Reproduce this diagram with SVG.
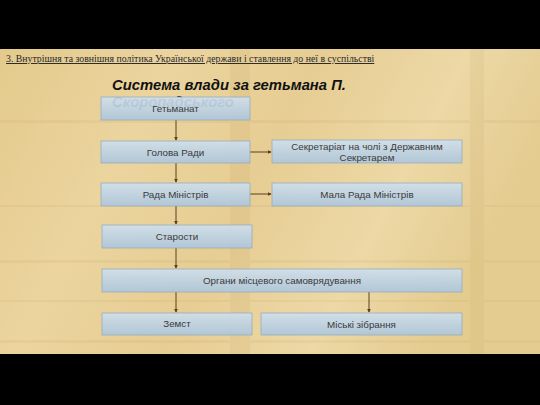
<svg xmlns="http://www.w3.org/2000/svg" width="540" height="405" viewBox="0 0 540 405">
  <defs>
    <linearGradient id="paper" x1="0" y1="0" x2="1" y2="0.3">
      <stop offset="0" stop-color="#e3ca8c"/>
      <stop offset="0.3" stop-color="#ebd49e"/>
      <stop offset="0.55" stop-color="#e6cd93"/>
      <stop offset="0.8" stop-color="#edd8a6"/>
      <stop offset="1" stop-color="#e4cc90"/>
    </linearGradient>
    <linearGradient id="box" x1="0" y1="0" x2="0" y2="1">
      <stop offset="0" stop-color="#cfe0ee"/>
      <stop offset="1" stop-color="#aec6db"/>
    </linearGradient>
    <marker id="arr" viewBox="0 0 6 6" refX="5" refY="3" markerWidth="4" markerHeight="4" orient="auto">
      <path d="M0,0 L6,3 L0,6 z" fill="#5a4020"/>
    </marker>
    <style>
      .bx { fill: url(#box); stroke: #8fabc4; stroke-width: 0.8; opacity: 0.92; }
      .lb { font-family: "Liberation Sans", Arial, sans-serif; font-size: 9.8px; fill: #3a3a3a; text-anchor: middle; }
      .cn { stroke: #5a4020; stroke-width: 1; fill: none; marker-end: url(#arr); }
    </style>
  </defs>
  <rect x="0" y="0" width="540" height="405" fill="#000"/>
  <rect x="0" y="49" width="540" height="305" fill="url(#paper)"/>
  <g opacity="0.1" fill="#b89550">
    <rect x="0" y="120" width="540" height="3"/>
    <rect x="0" y="205" width="540" height="2"/>
    <rect x="0" y="260" width="540" height="3"/>
    <rect x="0" y="300" width="540" height="2"/>
    <rect x="0" y="340" width="540" height="3"/>
    <rect x="230" y="49" width="20" height="305"/>
    <rect x="470" y="49" width="14" height="305"/>
  </g>
  <text x="6" y="62" font-family="Liberation Serif, 'Times New Roman', serif" font-size="9.8" fill="#2a2a2a" text-decoration="underline">3. Внутрішня та зовнішня політика Української держави і ставлення до неї в суспільстві</text>
  <text x="112" y="90" font-family="Liberation Sans, Arial, sans-serif" font-size="14.8" font-weight="bold" font-style="italic" fill="#111">Система влади за гетьмана П.</text>
  <text x="112" y="107" font-family="Liberation Sans, Arial, sans-serif" font-size="14.8" font-weight="bold" font-style="italic" fill="#111">Скоропадського</text>

  <g id="connectors">
    <line class="cn" x1="176" y1="120" x2="176" y2="140"/>
    <line class="cn" x1="176" y1="163" x2="176" y2="182"/>
    <line class="cn" x1="176" y1="206" x2="176" y2="224"/>
    <line class="cn" x1="176" y1="248" x2="176" y2="268"/>
    <line class="cn" x1="176" y1="292" x2="176" y2="312"/>
    <line class="cn" x1="369" y1="292" x2="369" y2="312"/>
    <line class="cn" x1="250" y1="152" x2="271" y2="152"/>
    <line class="cn" x1="250" y1="194" x2="271" y2="194"/>
  </g>

  <g id="n-hetmanat"><rect class="bx" x="101" y="97" width="149" height="23"/><text class="lb" x="175.5" y="112">Гетьманат</text></g>
  <g id="n-holova"><rect class="bx" x="101" y="141" width="149" height="22"/><text class="lb" x="175.5" y="155.5">Голова Ради</text></g>
  <g id="n-sekretariat"><rect class="bx" x="272" y="140" width="190" height="23"/><text class="lb" x="367" y="150">Секретаріат на чолі з Державним</text><text class="lb" x="367" y="160.5">Секретарем</text></g>
  <g id="n-rada"><rect class="bx" x="101" y="183" width="149" height="23"/><text class="lb" x="175.5" y="197.5">Рада Міністрів</text></g>
  <g id="n-mala"><rect class="bx" x="272" y="183" width="190" height="23"/><text class="lb" x="367" y="197.5">Мала Рада Міністрів</text></g>
  <g id="n-starosty"><rect class="bx" x="102" y="225" width="150" height="23"/><text class="lb" x="177" y="239.5">Старости</text></g>
  <g id="n-orhany"><rect class="bx" x="102" y="269" width="360" height="23"/><text class="lb" x="282" y="283.5">Органи місцевого самоврядування</text></g>
  <g id="n-zemst"><rect class="bx" x="102" y="313" width="150" height="22"/><text class="lb" x="177" y="327">Земст</text></g>
  <g id="n-miski"><rect class="bx" x="261" y="313" width="201" height="22"/><text class="lb" x="361.5" y="327.5">Міські зібрання</text></g>
</svg>
